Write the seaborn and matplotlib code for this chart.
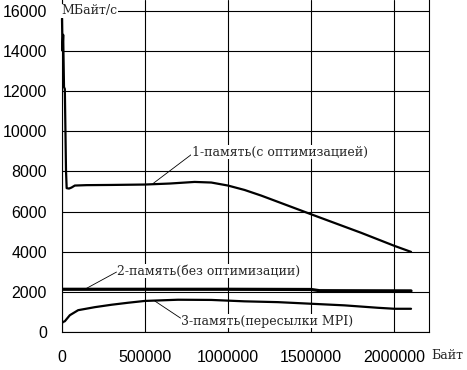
import matplotlib
matplotlib.use("Agg")
import matplotlib.pyplot as plt
import pandas as pd
import seaborn as sns

# 1 - memory with optimization
x_opt = [3000, 6000, 10000, 15000, 20000, 27000, 31000, 45000, 60000, 80000,
         150000, 300000, 500000, 650000, 800000, 900000, 1000000, 1100000,
         1200000, 1500000, 1800000, 2000000, 2100000]
y_opt = [15600, 14000, 14800, 12200, 12100, 8050, 7170, 7150, 7200, 7300,
         7320, 7330, 7350, 7400, 7480, 7450, 7300, 7080,
         6800, 5870, 4950, 4300, 4000]

# 2 - memory without optimization
x_noopt = [0, 500000, 1000000, 1500000, 1550000, 2100000]
y_noopt = [2140, 2140, 2140, 2130, 2070, 2060]

# 3 - memory via MPI messages
x_mpi = [0, 5000, 20000, 50000, 100000, 200000, 300000, 400000, 500000,
         700000, 900000, 1100000, 1300000, 1500000, 1700000, 1900000,
         2000000, 2100000]
y_mpi = [300, 500, 550, 850, 1100, 1250, 1370, 1470, 1560,
         1620, 1610, 1540, 1500, 1420, 1340, 1220, 1170, 1170]

x_ticks = [0, 500000, 1000000, 1500000, 2000000]
y_ticks = [0, 2000, 4000, 6000, 8000, 10000, 12000, 14000, 16000]

sns.set_style("white")
plt.rcParams["font.family"] = ["Liberation Sans", "DejaVu Sans"]

fig = plt.figure(figsize=(4.67, 3.70), dpi=100)
ax = fig.add_axes([0.1317, 0.1019, 0.7866, 0.8981])

df_opt = pd.DataFrame({"x": x_opt, "y": y_opt})
df_noopt = pd.DataFrame({"x": x_noopt, "y": y_noopt})
df_mpi = pd.DataFrame({"x": x_mpi, "y": y_mpi})

sns.lineplot(data=df_opt, x="x", y="y", ax=ax, color="black", lw=1.6,
             estimator=None, sort=False, zorder=3, clip_on=False)
sns.lineplot(data=df_noopt, x="x", y="y", ax=ax, color="black", lw=2.3,
             estimator=None, zorder=3)
sns.lineplot(data=df_mpi, x="x", y="y", ax=ax, color="black", lw=1.6,
             estimator=None, zorder=3)

ax.set_xlim(0, 2207000)
ax.set_ylim(0, 16530)
ax.set_xticks(x_ticks)
ax.set_yticks(y_ticks)
ax.set_xticklabels([str(v) for v in x_ticks])
ax.set_yticklabels([str(v) for v in y_ticks])
ax.tick_params(axis="both", direction="out", length=4, width=0.8, color="black",
               labelsize=11.5, labelcolor="black")
ax.tick_params(axis="x", pad=8.5)
ax.tick_params(axis="y", pad=6.5)
ax.set_xlabel("")
ax.set_ylabel("")

ax.grid(True, color="black", lw=0.8)
ax.set_axisbelow(True)
for side in ["left", "bottom", "right"]:
    ax.spines[side].set_color("black")
    ax.spines[side].set_linewidth(0.8)
    ax.spines[side].set_visible(True)
ax.spines["top"].set_visible(False)

serif = ["DejaVu Serif"]
box = dict(facecolor="white", edgecolor="none", pad=0.5)


def leader(rel):
    return dict(arrowstyle="-", color="black", lw=0.6, shrinkA=0, shrinkB=0, relpos=rel)


ax.annotate("1-память(с оптимизацией)", xy=(550000, 7400), xytext=(785000, 8970),
            ha="left", va="center", fontsize=9, family=serif, bbox=box,
            arrowprops=leader((0, 0.35)))
ax.annotate("2-память(без оптимизации)", xy=(140000, 2140), xytext=(335000, 3050),
            ha="left", va="center", fontsize=9, family=serif, bbox=box,
            arrowprops=leader((0, 0.45)))
ax.annotate("3-память(пересылки MPI)", xy=(560000, 1560), xytext=(720000, 550),
            ha="left", va="center", fontsize=9, family=serif, bbox=box,
            arrowprops=leader((0, 0.7)))

ax.text(1000, 16000, "МБайт/с", ha="left", va="center", fontsize=9, family=serif,
        bbox=dict(facecolor="white", edgecolor="none", pad=0.3), zorder=4)
ax.text(2222000, -1130, "Байт", ha="left", va="center", fontsize=9, family=serif,
        clip_on=False)

fig.savefig("out.png", dpi=100)
